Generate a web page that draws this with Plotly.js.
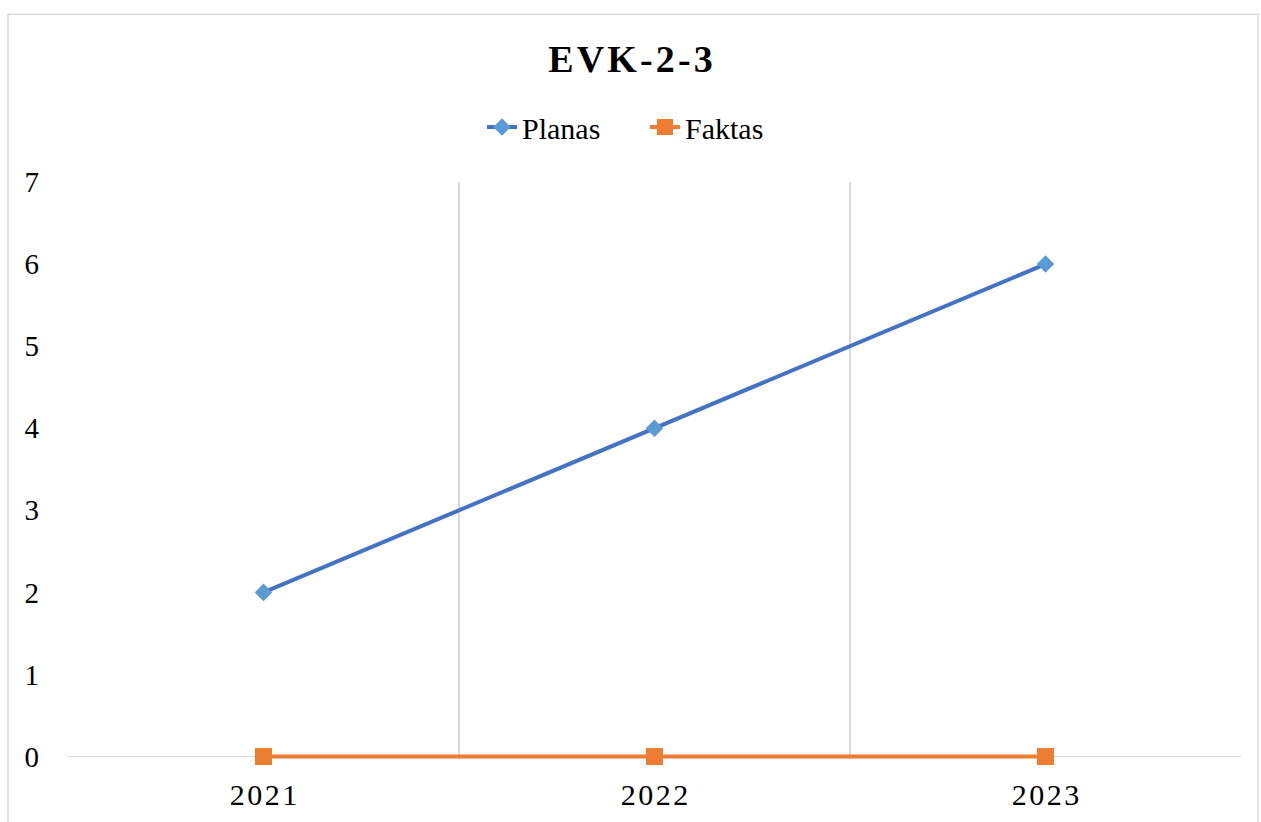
<!DOCTYPE html>
<html>
<head>
<meta charset="utf-8">
<script src="https://cdn.plot.ly/plotly-3.0.1.min.js"></script>
<style>html,body{margin:0;padding:0;background:#fff}#chart{width:1261px;height:822px}</style>
</head>
<body>
<div id="chart"></div>
<script>
const categories = ['2021', '2022', '2023'];
const planas = [2, 4, 6];
const faktas = [0, 0, 0];
const yTicks = [0, 1, 2, 3, 4, 5, 6, 7];
const chartTitle = 'EVK-2-3';

const spaced = s => s.split('').join('\u200A');

const font = '"Liberation Serif", "Times New Roman", serif';
const traces = [
  {x: categories, y: planas, name: 'Planas', type: 'scatter', mode: 'lines+markers',
   line: {color: '#4472C4', width: 4}, marker: {symbol: 'diamond', size: 13.5, color: '#5B9BD5'}, cliponaxis: false},
  {x: categories, y: faktas, name: 'Faktas', type: 'scatter', mode: 'lines+markers',
   line: {color: '#ED7D31', width: 4}, marker: {symbol: 'square', size: 17, color: '#ED7D31'}, cliponaxis: false}
];
// y range slightly below 0 so the zero line is not clipped; bottom margin keeps 0 at the same pixel
const yMin = -0.03;
const plotTop = 182, zeroPx = 757;
const unit = (zeroPx - plotTop) / 7;
const plotBottom = zeroPx - yMin * unit;
const plotH = plotBottom - plotTop;
const layout = {
  width: 1261, height: 822,
  margin: {l: 68, r: 20, t: plotTop, b: 822 - plotBottom},
  paper_bgcolor: '#fff', plot_bgcolor: '#fff',
  font: {family: font, color: '#000', size: 30},
  title: {text: '<b>' + spaced(chartTitle) + '</b>', font: {family: font, size: 38, color: '#000'},
          x: 0.5, xanchor: 'center', y: 1 - 59/822, yanchor: 'middle'},
  showlegend: true,
  legend: {orientation: 'h', x: (645 - 68) / 1173, xanchor: 'center', y: (plotBottom - 127) / plotH, yanchor: 'middle',
           font: {family: font, size: 30, color: '#000'}, entrywidth: 118, entrywidthmode: 'pixels'},
  xaxis: {type: 'category', range: [-0.5, 2.5], tickson: 'boundaries', ticks: '',
          showgrid: true, gridcolor: '#d9d9d9', gridwidth: 1.5,
          showline: false, zeroline: false, ticklabelstandoff: 15,
          tickvals: categories, ticktext: categories.map(spaced),
          tickfont: {family: font, size: 30, color: '#000'}},
  yaxis: {range: [yMin, 7], tickvals: yTicks, showgrid: false, zeroline: true, zerolinecolor: '#d9d9d9', zerolinewidth: 1.5,
          showline: false, ticks: '', ticklabelstandoff: 28, tickfont: {family: font, size: 29, color: '#000'}},
  shapes: [{type: 'rect', xref: 'paper', yref: 'paper',
            x0: (8-68)/1173, x1: (1258-68)/1173, y0: (plotBottom-840)/plotH, y1: (plotBottom-14)/plotH,
            line: {color: '#d9d9d9', width: 1.5}, fillcolor: 'rgba(0,0,0,0)', layer: 'below'}]
};
Plotly.newPlot('chart', traces, layout, {displayModeBar: false, staticPlot: true});
</script>
</body>
</html>
